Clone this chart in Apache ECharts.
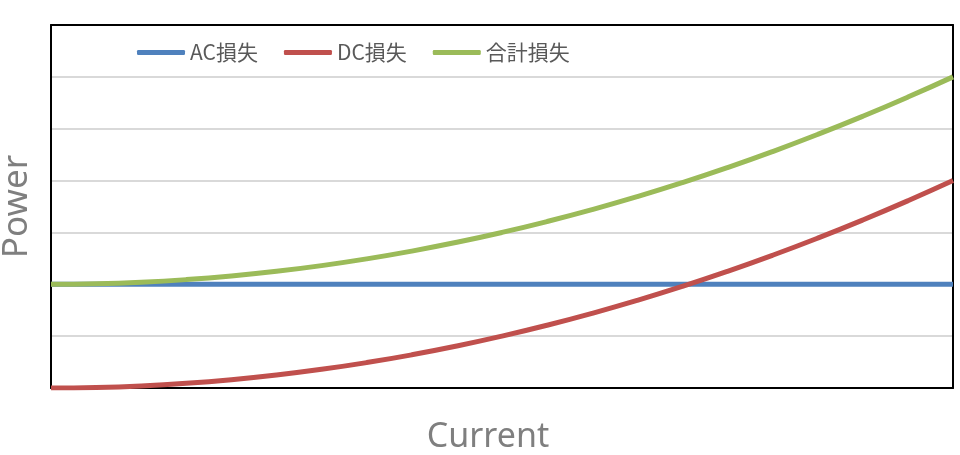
<!DOCTYPE html>
<html>
<head>
<meta charset="utf-8">
<script src="https://cdn.jsdelivr.net/npm/echarts@6/dist/echarts.min.js"></script>
<style>html,body{margin:0;padding:0;background:#fff}#c{width:960px;height:455px}</style>
</head>
<body>
<div id="c"></div>
<script>
var categories = ['0','1','2','3','4','5','6','7','8','9','10','11','12','13','14','15','16','17','18','19','20'];
var acLoss = [2,2,2,2,2,2,2,2,2,2,2,2,2,2,2,2,2,2,2,2,2];
var dcLoss = [0,0.01,0.04,0.09,0.16,0.25,0.36,0.49,0.64,0.81,1.0,1.21,1.44,1.69,1.96,2.25,2.56,2.89,3.24,3.61,4.0];
var totalLoss = [2,2.01,2.04,2.09,2.16,2.25,2.36,2.49,2.64,2.81,3.0,3.21,3.44,3.69,3.96,4.25,4.56,4.89,5.24,5.61,6.0];
var seriesNames = ['AC損失','DC損失','合計損失'];
var xName = 'Current';
var yName = 'Power';

var chart = echarts.init(document.getElementById('c'), null, {renderer:'canvas'});
var font = '"Noto Sans", "Noto Sans CJK JP", sans-serif';
var frame = {show:true, onZero:false, lineStyle:{color:'#000', width:2}};
function line(name, data, color){
  return {name:name, type:'line', data:data, smooth:true, showSymbol:false, symbol:'none',
    lineStyle:{color:color, width:5}, itemStyle:{color:color}, animation:false};
}
chart.setOption({
  animation:false,
  backgroundColor:'#fff',
  grid:{left:51, right:7, top:25, bottom:67, show:false, containLabel:false, outerBoundsMode:'none'},
  legend:{
    left:137, top:42, padding:0, itemWidth:48, itemHeight:5, itemGap:26,
    icon:'roundRect',
    textStyle:{color:'#595959', fontSize:21, fontFamily:'"Noto Sans CJK JP", "Noto Sans", sans-serif'},
    data:seriesNames
  },
  xAxis:[{type:'category', data:categories, boundaryGap:false,
    axisLine:frame, axisTick:{show:false}, axisLabel:{show:false}, splitLine:{show:false},
    name:xName, nameLocation:'middle', nameGap:32,
    nameTextStyle:{color:'#7f7f7f', fontSize:34, fontFamily:font, padding:[0,28,0,0]}},
    {type:'category', data:categories, boundaryGap:false, position:'top',
    axisLine:frame, axisTick:{show:false}, axisLabel:{show:false}, splitLine:{show:false}}],
  yAxis:[{type:'value', min:0, max:7, interval:1,
    axisLine:frame, axisTick:{show:false}, axisLabel:{show:false},
    splitLine:{show:true, lineStyle:{color:'#d9d9d9', width:2}},
    name:yName, nameLocation:'middle', nameGap:16, nameRotate:90,
    nameTextStyle:{color:'#7f7f7f', fontSize:35, fontFamily:font}},
    {type:'value', min:0, max:7, interval:1, position:'right',
    axisLine:frame, axisTick:{show:false}, axisLabel:{show:false}, splitLine:{show:false}}],
  series:[
    line(seriesNames[0], acLoss, '#4f81bd'),
    line(seriesNames[1], dcLoss, '#c0504d'),
    line(seriesNames[2], totalLoss, '#9bbb59')
  ]
});
</script>
</body>
</html>
